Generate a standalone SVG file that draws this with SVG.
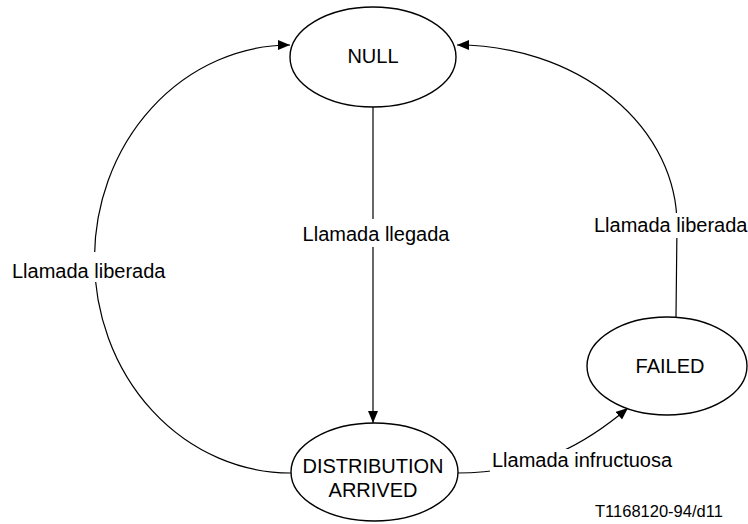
<svg xmlns="http://www.w3.org/2000/svg" width="748" height="524" viewBox="0 0 748 524">
<style>
  .node ellipse { fill: #fff; stroke: #000; stroke-width: 1.4; }
  .conn path { fill: none; stroke: #000; stroke-width: 1.2; }
  text { font-family: "Liberation Sans", Arial, sans-serif; font-size: 20px; fill: #000; }
  .lbgc { fill: #fff; stroke: none; }
</style>
<defs>
  <marker id="arr" markerUnits="userSpaceOnUse" markerWidth="13" markerHeight="11" refX="12" refY="5" orient="auto">
    <path d="M0,0 L12,5 L0,10 z" fill="#000"/>
  </marker>
</defs>
<rect width="748" height="524" fill="#fff"/>
<g id="connectors" class="conn">
  <path d="M373,107 L373,423" marker-end="url(#arr)"/>
  <path d="M291,473 A196,214 0 0 1 290,45" marker-end="url(#arr)"/>
  <path d="M676,317 L677,225 A220,180 0 0 0 457,45" marker-end="url(#arr)"/>
  <path d="M457,473 C540,473 590,440 628,408" marker-end="url(#arr)"/>
  <rect class="lbgc" x="300" y="219" width="152" height="28"/>
  <text x="376" y="241" text-anchor="middle">Llamada llegada</text>
  <rect class="lbgc" x="10" y="252" width="158" height="30"/>
  <text x="12" y="278">Llamada liberada</text>
  <rect class="lbgc" x="592" y="213" width="156" height="25"/>
  <text x="594" y="232">Llamada liberada</text>
  <rect class="lbgc" x="490" y="449" width="186" height="27"/>
  <text x="492" y="467">Llamada infructuosa</text>
</g>
<g id="null" class="node">
  <ellipse cx="373" cy="57" rx="83" ry="50"/>
  <text x="373" y="63" text-anchor="middle">NULL</text>
</g>
<g id="distribution-arrived" class="node">
  <ellipse cx="374.5" cy="472" rx="83.5" ry="49"/>
  <text x="373" y="473" text-anchor="middle">DISTRIBUTION</text>
  <text x="373" y="497" text-anchor="middle">ARRIVED</text>
</g>
<g id="failed" class="node">
  <ellipse cx="667" cy="366" rx="80" ry="49"/>
  <text x="670" y="373" text-anchor="middle">FAILED</text>
</g>
<text x="595" y="517" style="font-size:16.5px">T1168120-94/d11</text>
</svg>
